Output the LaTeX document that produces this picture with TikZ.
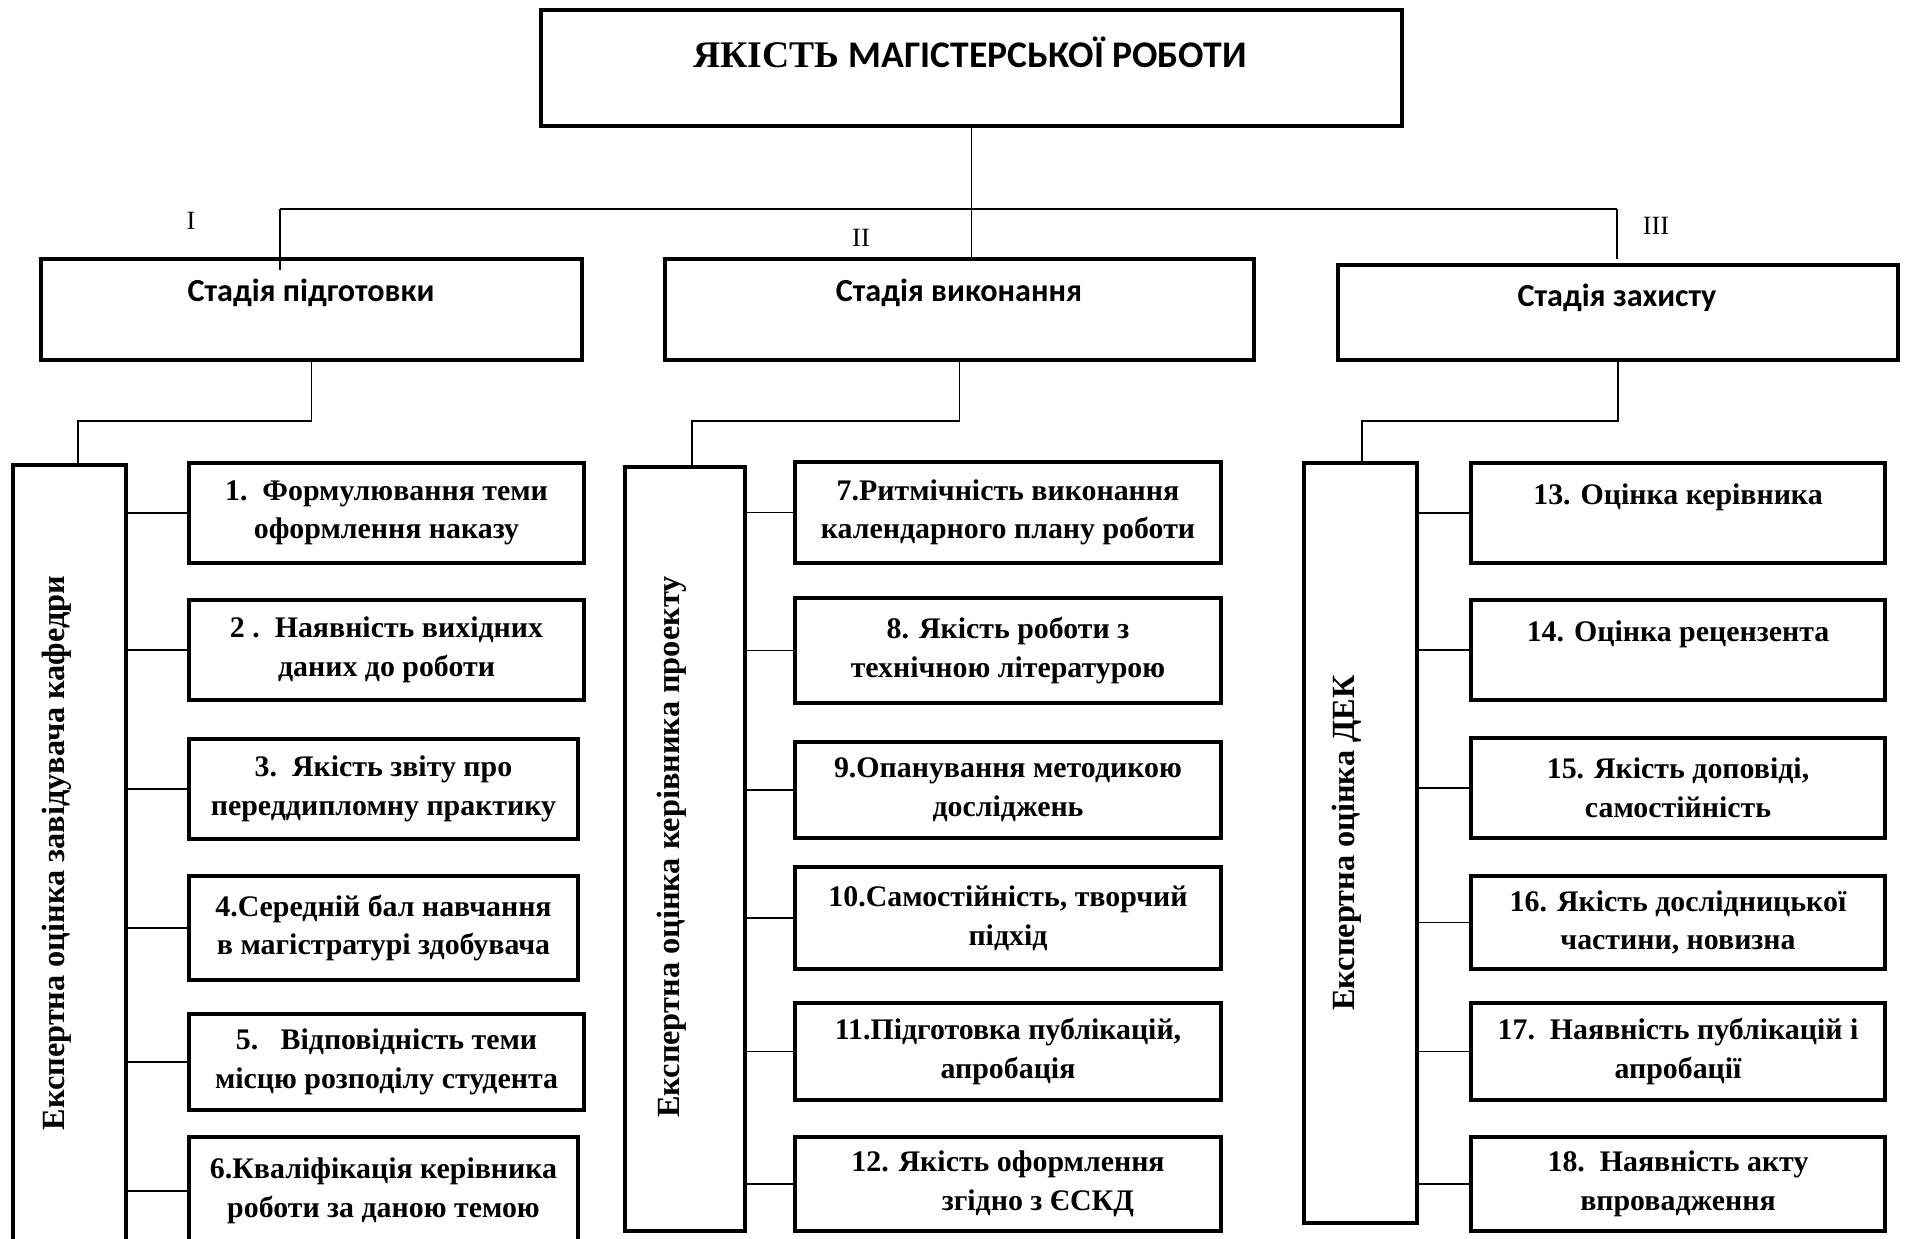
\documentclass[tikz,border=0pt]{standalone}
\usepackage{fontspec}
\setmainfont{Liberation Serif}
\newfontfamily\carlito{Carlito}

\begin{document}
\begin{tikzpicture}[
    mainbox/.style={draw, line width=2.5pt, inner sep=0pt},
    stagebox/.style={draw, line width=2.5pt, inner sep=0pt, minimum height=2.02cm},
    sidebox/.style={draw, line width=2.5pt, inner sep=0pt},
    itembox/.style={draw, line width=2.5pt, inner sep=0pt, align=center, font=\bfseries\fontsize{17}{22}\selectfont},
    link/.style={line width=0.8pt},
    stagetext/.style={font=\carlito\bfseries\fontsize{18.3}{22}\selectfont},
    sidetext/.style={rotate=90, font=\bfseries\fontsize{18.4}{22}\selectfont},
    numtext/.style={font=\fontsize{15}{18}\selectfont}
]
    \useasboundingbox (0,0) rectangle (38.14,-24.76);

    \node[mainbox, minimum width=17.22cm, minimum height=2.32cm] (title) at (19.43,-1.36) {};
    \node[font=\bfseries\fontsize{21.4}{25}\selectfont] (titletext) at (19.4,-1.04) {ЯКІСТЬ {\carlito МАГІСТЕРСЬКОЇ РОБОТИ}};

    \node[stagebox, minimum width=10.82cm] (st1) at (6.23,-6.19) {};
    \node[stagebox, minimum width=11.78cm] (st2) at (19.19,-6.19) {};
    \node[stagebox, minimum width=11.2cm, minimum height=1.9cm] (st3) at (32.36,-6.25) {};
    \node[stagetext] (st1text) at (6.22,-5.86) {Стадія підготовки};
    \node[stagetext] (st2text) at (19.18,-5.86) {Стадія виконання};
    \node[stagetext] (st3text) at (32.34,-5.96) {Стадія захисту};

    \node[numtext] (num1) at (3.82,-4.42) {I};
    \node[numtext] (num2) at (17.22,-4.76) {II};
    \node[numtext] (num3) at (33.12,-4.52) {III};

    \coordinate (bus1) at (5.6,-4.18);
    \coordinate (bus3) at (32.34,-4.18);
    \coordinate (drop1) at (5.6,-5.4);
    \coordinate (drop3) at (32.34,-5.18);
    \draw[link] (title.south) -- (title.south |- st2.north);
    \draw[link] (bus1) -- (bus3);
    \draw[link] (bus1) -- (drop1);
    \draw[link] (bus3) -- (drop3);

    \node[sidebox, minimum width=2.26cm, minimum height=15.9cm] (side1) at (1.39,-17.25) {};
    \node[sidebox, minimum width=2.4cm, minimum height=15.28cm] (side2) at (13.7,-16.98) {};
    \node[sidebox, minimum width=2.26cm, minimum height=15.2cm] (side3) at (27.21,-16.86) {};
    \node[sidetext] (side1text) at (1.14,-17.06) {Експертна оцінка завідувача кафедри};
    \node[sidetext] (side2text) at (13.44,-16.94) {Експертна оцінка керівника проекту};
    \node[sidetext] (side3text) at (26.94,-16.86) {Експертна оцінка ДЕК};

    \coordinate (bend1) at (1.56,-8.42);
    \coordinate (bend2) at (13.84,-8.42);
    \coordinate (bend3) at (27.24,-8.42);
    \draw[link] (st1.south) |- (bend1) -- (bend1 |- side1.north);
    \draw[link] (st2.south) |- (bend2) -- (bend2 |- side2.north);
    \draw[link] (st3.south) |- (bend3) -- (bend3 |- side3.north);

    \node[itembox, minimum width=7.9cm, minimum height=2cm] (i1) at (7.73,-10.26) {1.~~Формулювання теми\\оформлення наказу};
    \node[itembox, minimum width=7.9cm, minimum height=2cm] (i2) at (7.73,-13.0) {2 .~~Наявність вихідних\\даних до роботи};
    \node[itembox, minimum width=7.78cm, minimum height=2cm] (i3) at (7.67,-15.78) {3.~~Якість звіту про\\переддипломну практику};
    \node[itembox, minimum width=7.78cm, minimum height=2.08cm] (i4) at (7.67,-18.56) {4.Середній бал навчання\\в магістратурі здобувача};
    \node[itembox, minimum width=7.9cm, minimum height=1.92cm] (i5) at (7.73,-21.24) {5.~~~Відповідність теми\\місцю розподілу студента};
    \node[itembox, minimum width=7.78cm, minimum height=2.16cm] (i6) at (7.67,-23.82) {6.Кваліфікація керівника\\роботи за даною темою};

    \node[itembox, minimum width=8.52cm, minimum height=2.02cm] (i7) at (20.16,-10.25) {7.Ритмічність виконання\\календарного плану роботи};
    \node[itembox, minimum width=8.52cm, minimum height=2.1cm] (i8) at (20.16,-13.01) {8. Якість роботи з\\технічною літературою};
    \node[itembox, minimum width=8.52cm, minimum height=1.92cm] (i9) at (20.16,-15.8) {9.Опанування методикою\\досліджень};
    \node[itembox, minimum width=8.52cm, minimum height=2.04cm] (i10) at (20.16,-18.36) {10.Самостійність, творчий\\підхід};
    \node[itembox, minimum width=8.52cm, minimum height=1.94cm] (i11) at (20.16,-21.03) {11.Підготовка публікацій,\\апробація};
    \node[itembox, minimum width=8.52cm, minimum height=1.88cm] (i12) at (20.16,-23.68) {12. Якість оформлення\\\hspace*{2em}згідно з ЄСКД};

    \node[itembox, minimum width=8.28cm, minimum height=2cm] (i13) at (33.56,-10.26) {13. Оцінка керівника\\~};
    \node[itembox, minimum width=8.28cm, minimum height=2cm] (i14) at (33.56,-13.0) {14. Оцінка рецензента\\~};
    \node[itembox, minimum width=8.28cm, minimum height=2cm] (i15) at (33.56,-15.76) {15. Якість доповіді,\\самостійність};
    \node[itembox, minimum width=8.28cm, minimum height=1.86cm] (i16) at (33.56,-18.45) {16. Якість дослідницької\\частини, новизна};
    \node[itembox, minimum width=8.28cm, minimum height=1.94cm] (i17) at (33.56,-21.03) {17.~~Наявність публікацій і\\апробації};
    \node[itembox, minimum width=8.28cm, minimum height=1.88cm] (i18) at (33.56,-23.68) {18.~~Наявність акту\\впровадження};

    \draw[link] (side1.east |- i1.west) -- (i1.west);
    \draw[link] (side1.east |- i2.west) -- (i2.west);
    \draw[link] (side1.east |- i3.west) -- (i3.west);
    \draw[link] (side1.east |- i4.west) -- (i4.west);
    \draw[link] (side1.east |- i5.west) -- (i5.west);
    \draw[link] (side1.east |- i6.west) -- (i6.west);

    \draw[link] (side2.east |- i7.west) -- (i7.west);
    \draw[link] (side2.east |- i8.west) -- (i8.west);
    \draw[link] (side2.east |- i9.west) -- (i9.west);
    \draw[link] (side2.east |- i10.west) -- (i10.west);
    \draw[link] (side2.east |- i11.west) -- (i11.west);
    \draw[link] (side2.east |- i12.west) -- (i12.west);

    \draw[link] (side3.east |- i13.west) -- (i13.west);
    \draw[link] (side3.east |- i14.west) -- (i14.west);
    \draw[link] (side3.east |- i15.west) -- (i15.west);
    \draw[link] (side3.east |- i16.west) -- (i16.west);
    \draw[link] (side3.east |- i17.west) -- (i17.west);
    \draw[link] (side3.east |- i18.west) -- (i18.west);
\end{tikzpicture}
\end{document}
